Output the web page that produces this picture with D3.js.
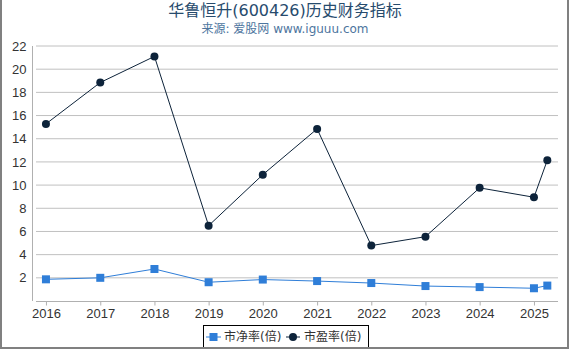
<!DOCTYPE html>
<html>
<head>
<meta charset="utf-8">
<script src="https://cdn.jsdelivr.net/npm/d3@7"></script>
<style>
  body { margin: 0; background: #fff; }
  svg { display: block; font-family: "DejaVu Sans", "Noto Sans CJK SC", sans-serif; }
</style>
</head>
<body>
<svg id="chart" width="570" height="350"></svg>
<script>
// data
const dates = ['2016-01-01','2017-01-01','2018-01-01','2019-01-01','2020-01-01',
               '2021-01-01','2022-01-01','2023-01-01','2024-01-01','2025-01-01','2025-04-01'];
const pb = [1.87, 2.0, 2.76, 1.62, 1.85, 1.72, 1.55, 1.29, 1.2, 1.1, 1.33];
const pe = [15.28, 18.85, 21.1, 6.5, 10.9, 14.85, 4.78, 5.55, 9.76, 8.95, 12.15];
const yTicks = [2, 4, 6, 8, 10, 12, 14, 16, 18, 20, 22];
const xTickYears = [2016, 2017, 2018, 2019, 2020, 2021, 2022, 2023, 2024, 2025];

const parse = d3.timeParse('%Y-%m-%d');
const width = 570, height = 350;
const svg = d3.select('#chart');

const x = d3.scaleTime()
  .domain([parse('2015-09-29'), parse('2025-06-12')])
  .range([32, 558]);
const y = d3.scaleLinear().domain([0, 22]).range([301, 46]);

// grid
svg.append('g')
  .selectAll('line')
  .data(yTicks)
  .join('line')
  .attr('x1', 36).attr('x2', 558)
  .attr('y1', d => y(d)).attr('y2', d => y(d))
  .attr('stroke', '#c0c0c0').attr('stroke-width', 1);

// y axis
svg.append('g')
  .attr('transform', 'translate(32.5,0)')
  .call(d3.axisLeft(y).tickValues(yTicks).tickSize(0).tickPadding(6))
  .call(g => g.select('.domain').attr('stroke', '#b0b0b0').attr('d', `M0,${y(22)}V${y(0)}`))
  .call(g => g.selectAll('text').attr('fill', '#333').attr('font-size', 13));

// x axis
svg.append('g')
  .attr('transform', `translate(0,${y(0) + 0.5})`)
  .call(d3.axisBottom(x)
    .tickValues(xTickYears.map(v => new Date(v, 0, 1)))
    .tickFormat(d3.timeFormat('%Y'))
    .tickSize(4).tickPadding(3))
  .call(g => g.select('.domain').attr('stroke', '#b0b0b0').attr('d', 'M36,0H558'))
  .call(g => g.selectAll('.tick line').attr('stroke', '#b0b0b0'))
  .call(g => g.selectAll('text').attr('fill', '#333').attr('font-size', 13));

const pts = dates.map((d, i) => ({ date: parse(d), pb: pb[i], pe: pe[i] }));
const pbColor = '#2f7ed8';
const peColor = '#0d233a';

// PB line
svg.append('path')
  .datum(pts)
  .attr('fill', 'none').attr('stroke', pbColor).attr('stroke-width', 1)
  .attr('d', d3.line().x(d => x(d.date)).y(d => y(d.pb)));
svg.append('g').selectAll('rect')
  .data(pts)
  .join('rect')
  .attr('x', d => x(d.date) - 4).attr('y', d => y(d.pb) - 4)
  .attr('width', 8).attr('height', 8)
  .attr('fill', pbColor);

// PE line
svg.append('path')
  .datum(pts)
  .attr('fill', 'none').attr('stroke', peColor).attr('stroke-width', 1)
  .attr('d', d3.line().x(d => x(d.date)).y(d => y(d.pe)));
svg.append('g').selectAll('circle')
  .data(pts)
  .join('circle')
  .attr('cx', d => x(d.date)).attr('cy', d => y(d.pe))
  .attr('r', 4)
  .attr('fill', peColor);

// title
svg.append('text')
  .attr('x', width / 2).attr('y', 16)
  .attr('text-anchor', 'middle')
  .attr('font-size', 16).attr('fill', '#274b6d')
  .text('华鲁恒升(600426)历史财务指标');
svg.append('text')
  .attr('x', width / 2).attr('y', 33)
  .attr('text-anchor', 'middle')
  .attr('font-size', 12).attr('fill', '#4d759e')
  .text('来源: 爱股网 www.iguuu.com');

// legend
const lg = svg.append('g');
lg.append('rect')
  .attr('x', 203.5).attr('y', 325.5).attr('width', 165).attr('height', 22)
  .attr('fill', '#fff').attr('stroke', '#000').attr('stroke-width', 1);
lg.append('line').attr('x1', 206).attr('x2', 221).attr('y1', 337).attr('y2', 337)
  .attr('stroke', pbColor).attr('stroke-width', 1);
lg.append('rect').attr('x', 209.5).attr('y', 333).attr('width', 8).attr('height', 8).attr('fill', pbColor);
lg.append('text').attr('x', 224).attr('y', 341).attr('font-size', 12).attr('fill', '#333').text('市净率(倍)');
lg.append('line').attr('x1', 286).attr('x2', 300).attr('y1', 337).attr('y2', 337)
  .attr('stroke', peColor).attr('stroke-width', 1);
lg.append('circle').attr('cx', 293).attr('cy', 337).attr('r', 4).attr('fill', peColor);
lg.append('text').attr('x', 304).attr('y', 341).attr('font-size', 12).attr('fill', '#333').text('市盈率(倍)');

// outer frame (left, bottom, right)
svg.append('path')
  .attr('d', `M1,0V${height - 2}H${width - 2}V0`)
  .attr('fill', 'none').attr('stroke', '#808080').attr('stroke-width', 2);
</script>
</body>
</html>
